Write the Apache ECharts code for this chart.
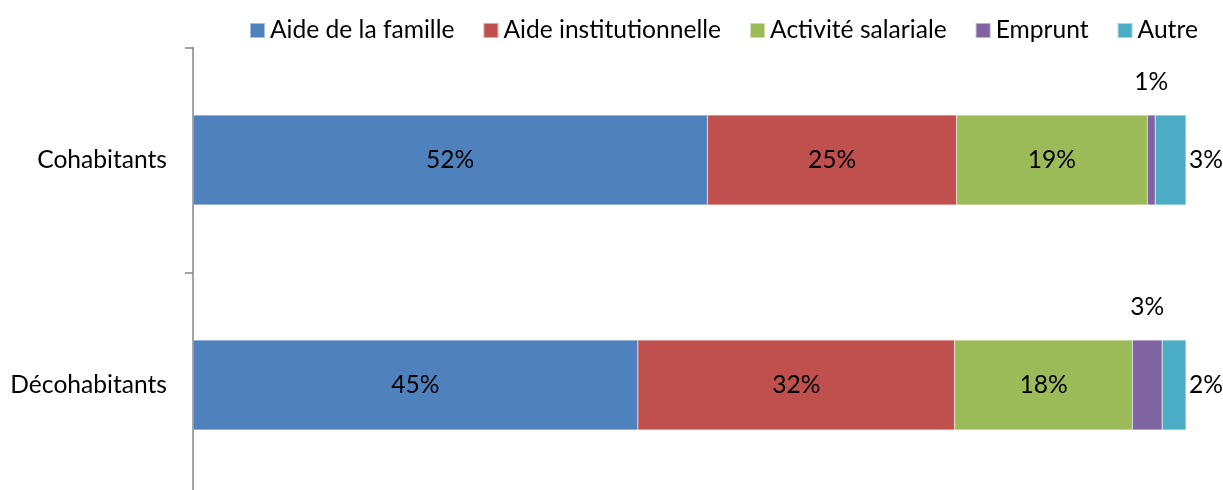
<!DOCTYPE html>
<html>
<head>
<meta charset="utf-8">
<script src="https://cdn.jsdelivr.net/npm/echarts@6/dist/echarts.min.js"></script>
<style>
  html, body { margin: 0; padding: 0; background: #fff; }
  #main { width: 1223px; height: 490px; }
</style>
</head>
<body>
<div id="main"></div>
<script>
// catégories (du haut vers le bas)
const categories = ['Cohabitants', 'Décohabitants']
const seriesNames = ['Aide de la famille', 'Aide institutionnelle', 'Activité salariale', 'Emprunt', 'Autre']
// parts en %
const aideFamille = [51.8, 44.8]
const aideInstit = [25.1, 31.9]
const activite = [19.2, 17.9]
const emprunt = [0.8, 3.0]
const autre = [3.1, 2.4]

const colors = ['#4F81BD', '#C0504D', '#9BBB59', '#8064A2', '#4BACC6']
const font = 'Lato, "Open Sans", sans-serif'
const fs = 24.6

const chart = echarts.init(document.getElementById('main'))

function fmt (p) {
  return Math.round(p.value) + '%'
}

function makeSeries (name, data, idx, labelPos) {
  const label = {
    show: true,
    formatter: fmt,
    color: '#000',
    fontSize: fs,
    fontFamily: font,
    position: labelPos
  }
  if (labelPos === 'top') label.distance = 20
  if (labelPos === 'right') label.distance = 3
  return {
    name: name,
    type: 'bar',
    stack: 'total',
    barWidth: 90,
    itemStyle: {
      color: colors[idx],
      borderColor: 'rgba(255,255,255,0.5)',
      borderWidth: 0.5
    },
    label: label,
    data: data
  }
}

chart.setOption({
  animation: false,
  color: colors,
  legend: {
    top: 13,
    left: 244,
    itemWidth: 15,
    itemHeight: 15,
    itemGap: 28,
    icon: 'rect',
    textStyle: { fontSize: fs, color: '#000', fontFamily: font },
    data: seriesNames
  },
  grid: {
    left: 193,
    right: 37,
    top: 47.5,
    height: 450,
    outerBoundsMode: 'none'
  },
  xAxis: {
    type: 'value',
    min: 0,
    max: 100,
    show: false
  },
  yAxis: {
    type: 'category',
    inverse: true,
    data: categories,
    axisLine: { lineStyle: { color: '#868686', width: 1.5 } },
    axisTick: { show: true, length: 8, lineStyle: { color: '#868686', width: 1.5 } },
    axisLabel: { fontSize: fs, color: '#000', fontFamily: font, margin: 26 }
  },
  series: [
    makeSeries(seriesNames[0], aideFamille, 0, 'inside'),
    makeSeries(seriesNames[1], aideInstit, 1, 'inside'),
    makeSeries(seriesNames[2], activite, 2, 'inside'),
    makeSeries(seriesNames[3], emprunt, 3, 'top'),
    makeSeries(seriesNames[4], autre, 4, 'right')
  ]
})
</script>
</body>
</html>
